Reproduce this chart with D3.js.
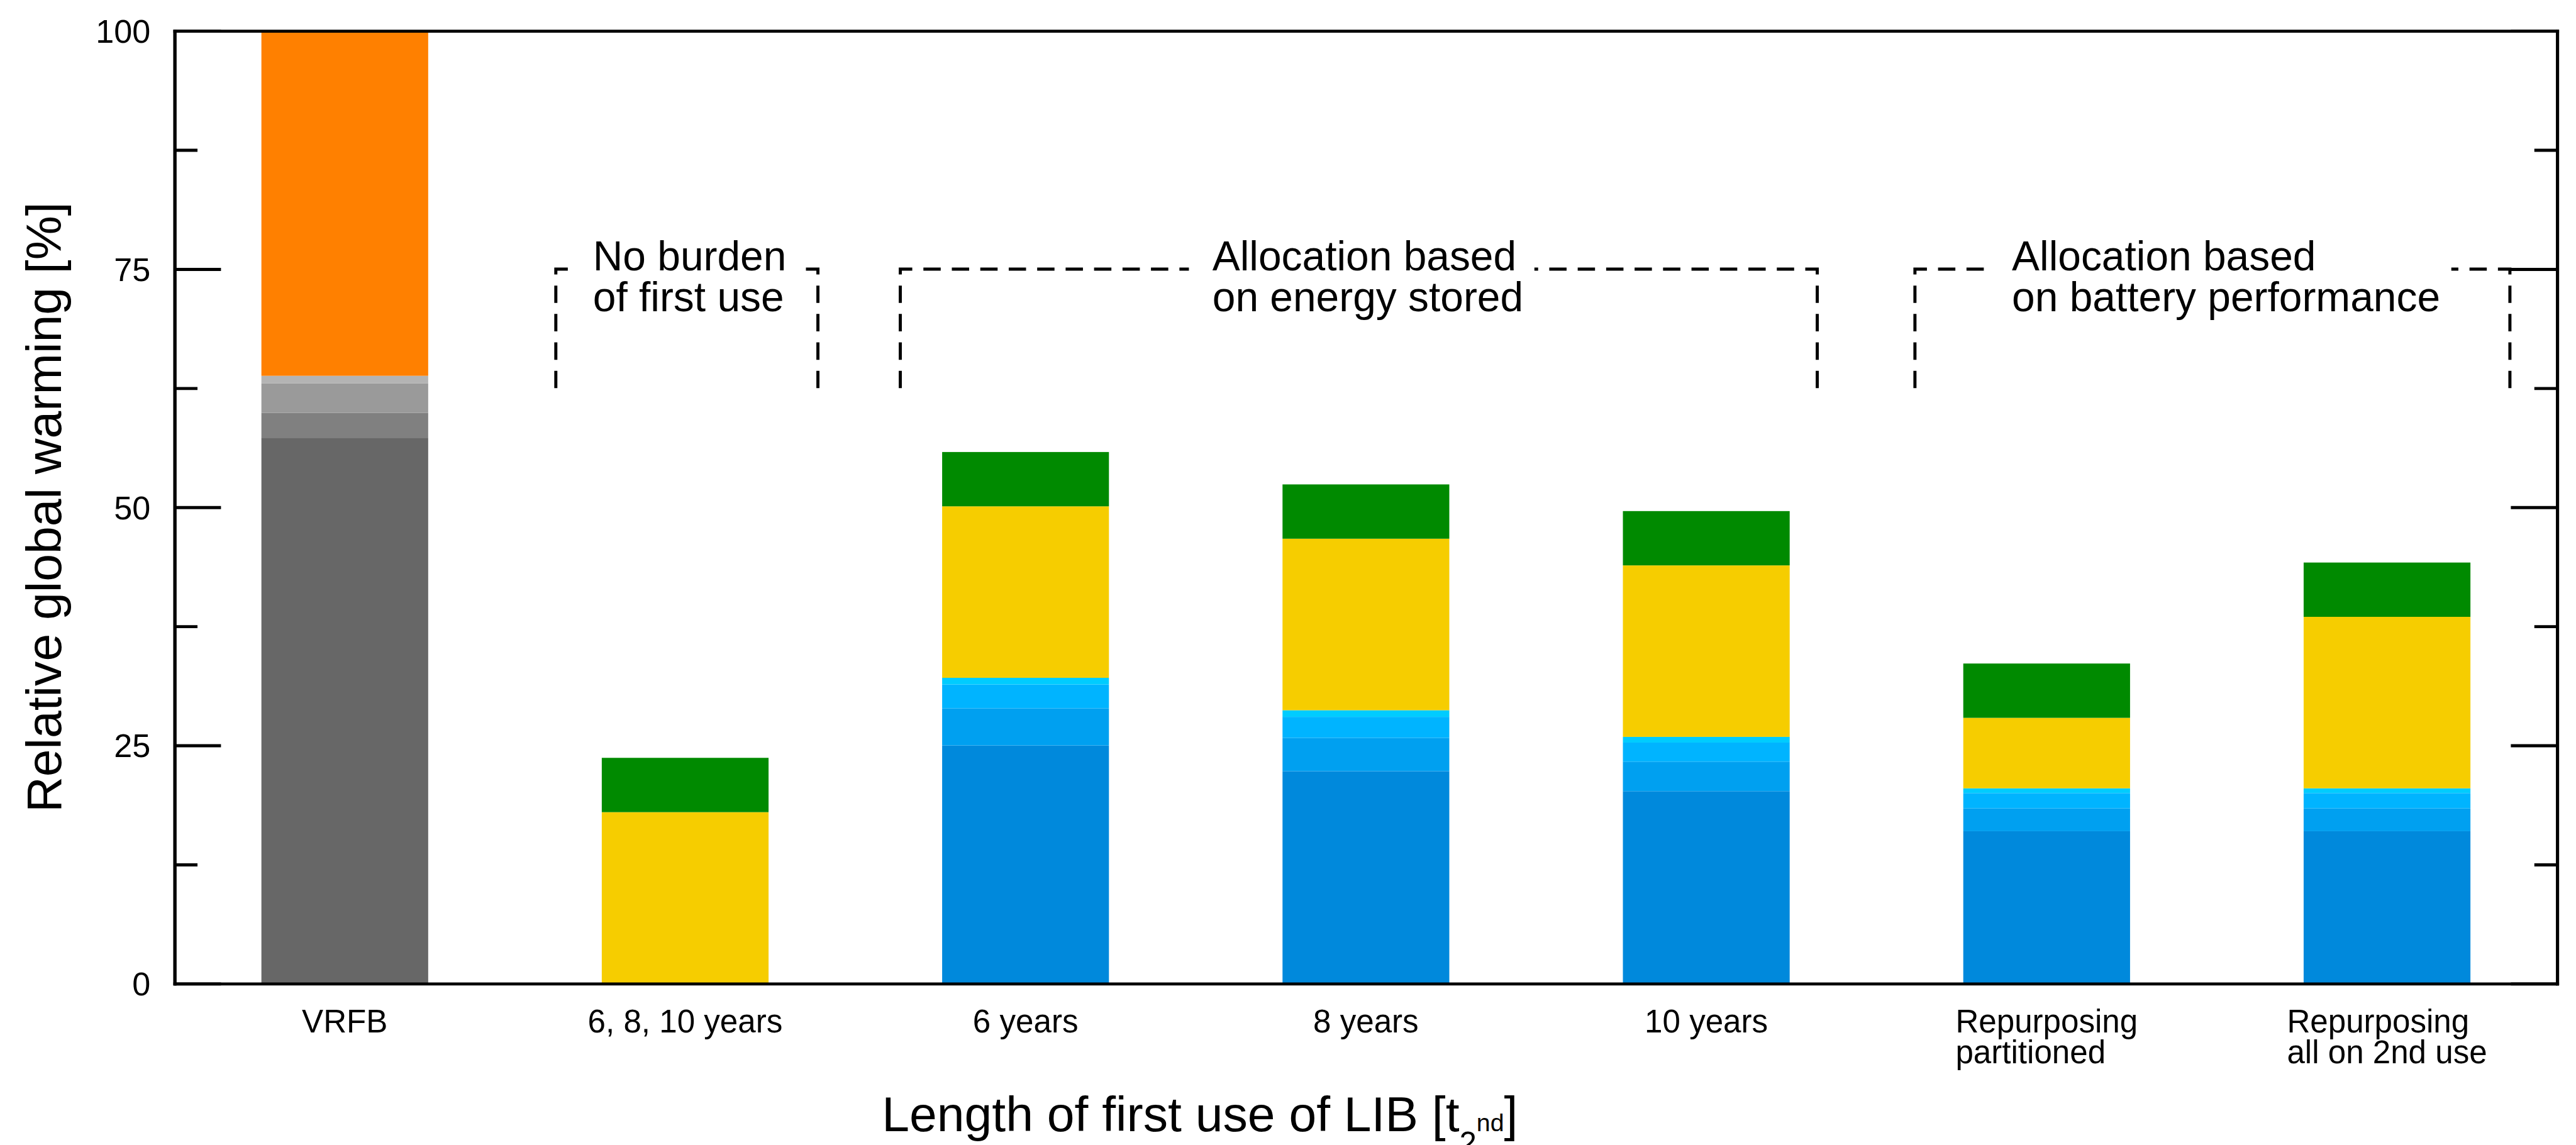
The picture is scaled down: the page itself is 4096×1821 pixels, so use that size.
<!DOCTYPE html>
<html>
<head>
<meta charset="utf-8">
<script src="https://cdn.jsdelivr.net/npm/d3@7"></script>
<style>
  body { margin: 0; background: #fff; }
  text { font-family: "Liberation Sans", Arial, Helvetica, sans-serif; fill: #000; }
</style>
</head>
<body>
<div id="chart"></div>
<script>

// categories on the x axis (multi line labels split with \n)
var categories = ["VRFB", "6, 8, 10 years", "6 years", "8 years", "10 years",
  "Repurposing\npartitioned", "Repurposing\nall on 2nd use"];

// stacked values, bottom to top
var vrfbBase  = [57.3, 0, 0, 0, 0, 0, 0];
var vrfbMid   = [2.6, 0, 0, 0, 0, 0, 0];
var vrfbLight = [3.1, 0, 0, 0, 0, 0, 0];
var vrfbPale  = [0.8, 0, 0, 0, 0, 0, 0];
var vrfbTop   = [36.2, 0, 0, 0, 0, 0, 0];
var libDark   = [0, 0, 25.0, 22.3, 20.2, 16.0, 16.0];
var libMid    = [0, 0, 3.9, 3.5, 3.1, 2.4, 2.4];
var libLight  = [0, 0, 2.5, 2.2, 2.0, 1.6, 1.6];
var libCyan   = [0, 0, 0.7, 0.7, 0.6, 0.5, 0.5];
var yellowPart = [0, 18.0, 18.0, 18.0, 18.0, 7.4, 18.0];
var greenPart  = [0, 5.7, 5.7, 5.7, 5.7, 5.7, 5.7];

var yTicks = [0, 25, 50, 75, 100];
var yMinorTicks = [12.5, 37.5, 62.5, 87.5];

// dashed brackets above the bars (x in category units, y in %)
var bracketLines = [["No burden", "of first use"],
  ["Allocation based", "on energy stored"],
  ["Allocation based", "on battery performance"]];
var bracketFrom = [0.620, 1.632, 4.613];
var bracketTo = [1.390, 4.326, 6.361];
var bracketTextAt = [0.729, 2.549, 4.898];
var bracketLow = 62.5, bracketHigh = 75;

var keys = ["vrfbBase", "vrfbMid", "vrfbLight", "vrfbPale", "vrfbTop",
  "libDark", "libMid", "libLight", "libCyan", "yellow", "green"];
var colours = ["#676767", "#808080", "#9a9a9a", "#b4b4b4", "#ff8000",
  "#0089dc", "#00a0f0", "#00b4ff", "#00ccff", "#f6cd00", "#008a00"];

// build the table for d3.stack
var rows = categories.map(function(c, i) {
  return {
    cat: c, idx: i,
    vrfbBase: vrfbBase[i], vrfbMid: vrfbMid[i], vrfbLight: vrfbLight[i],
    vrfbPale: vrfbPale[i], vrfbTop: vrfbTop[i],
    libDark: libDark[i], libMid: libMid[i], libLight: libLight[i], libCyan: libCyan[i],
    yellow: yellowPart[i], green: greenPart[i]
  };
});

// drawn in the reference's own pixel space, scaled down by the viewBox
var width = 4165, height = 1852;
var margin = {top: 50, right: 30, bottom: 261, left: 282};

var svg = d3.select("#chart")
  .append("svg")
  .attr("width", 4096)
  .attr("height", 1821)
  .attr("viewBox", "0 0 " + width + " " + height);

var x_scale = d3.scaleLinear()
  .domain([-0.5, 6.5])
  .range([margin.left, width - margin.right]);

var y_scale = d3.scaleLinear()
  .domain([0, 100])
  .range([height - margin.bottom, margin.top]);

var barW = (x_scale(1) - x_scale(0)) * 0.49;

var stacked = d3.stack().keys(keys)(rows);

svg.append("g")
  .selectAll("g")
  .data(stacked)
  .enter().append("g")
  .attr("fill", function(d, i) { return colours[i]; })
  .selectAll("rect")
  .data(function(d) { return d.filter(function(p) { return p[1] - p[0] > 0; }); })
  .enter().append("rect")
  .attr("x", function(d) { return x_scale(d.data.idx) - barW / 2; })
  .attr("width", barW)
  .attr("y", function(d) { return y_scale(d[1]); })
  .attr("height", function(d) { return y_scale(d[0]) - y_scale(d[1]); });

// frame + ticks
var axisW = 5;

var left = svg.append("g")
  .attr("transform", "translate(" + margin.left + ",0)")
  .call(d3.axisLeft(y_scale).tickValues(yTicks).tickSize(-75).tickSizeOuter(0).tickPadding(39));
left.selectAll("text").attr("font-size", 53).attr("dy", "0.35em");

svg.append("g")
  .attr("transform", "translate(" + margin.left + ",0)")
  .call(d3.axisLeft(y_scale).tickValues(yMinorTicks).tickSize(-37).tickSizeOuter(0).tickFormat(""));

svg.append("g")
  .attr("transform", "translate(" + (width - margin.right) + ",0)")
  .call(d3.axisRight(y_scale).tickValues(yTicks).tickSize(-75).tickSizeOuter(0).tickFormat(""));

svg.append("g")
  .attr("transform", "translate(" + (width - margin.right) + ",0)")
  .call(d3.axisRight(y_scale).tickValues(yMinorTicks).tickSize(-37).tickSizeOuter(0).tickFormat(""));

svg.append("g")
  .attr("transform", "translate(0," + margin.top + ")")
  .call(d3.axisTop(x_scale).tickValues([]).tickSizeOuter(0));

svg.append("g")
  .attr("transform", "translate(0," + (height - margin.bottom) + ")")
  .call(d3.axisBottom(x_scale).tickValues([]).tickSizeOuter(0));

svg.selectAll(".domain, .tick line")
  .attr("stroke", "#000")
  .attr("stroke-width", axisW)
  .attr("stroke-linecap", "square");
svg.selectAll(".tick line").attr("stroke-linecap", "butt");

// category labels: lines left aligned, block centred on the bar
categories.forEach(function(c, i) {
  var lines = c.split("\n");
  var g = svg.append("g");
  var texts = lines.map(function(l, k) {
    return g.append("text")
      .attr("font-size", 52)
      .attr("y", 1670 + k * 50)
      .text(l);
  });
  var maxW = d3.max(texts, function(t) { return t.node().getComputedTextLength(); });
  texts.forEach(function(t) { t.attr("x", x_scale(i) - maxW / 2); });
});

// axis titles
svg.append("text")
  .attr("transform", "translate(98," + ((margin.top + height - margin.bottom) / 2) + ") rotate(-90)")
  .attr("text-anchor", "middle")
  .attr("font-size", 80)
  .text("Relative global warming [%]");

var xt = svg.append("text")
  .attr("x", 1940)
  .attr("y", 1830)
  .attr("text-anchor", "middle")
  .attr("font-size", 80);
xt.append("tspan").text("Length of first use of LIB [t");
xt.append("tspan").attr("font-size", 50).attr("dy", 36).text("2");
xt.append("tspan").attr("font-size", 40).attr("dy", -36).text("nd");
xt.append("tspan").text("]");

// dashed brackets with their captions
bracketLines.forEach(function(lines, i) {
  var tx = x_scale(bracketTextAt[i]);
  var yTop = y_scale(bracketHigh), yBot = y_scale(bracketLow);
  var g = svg.append("g");
  var texts = lines.map(function(l, k) {
    return g.append("text")
      .attr("x", tx)
      .attr("y", yTop + 2 + k * 66)
      .attr("font-size", 67)
      .text(l);
  });
  var maxW = d3.max(texts, function(t) { return t.node().getComputedTextLength(); });

  var x0 = x_scale(bracketFrom[i]), x1 = x_scale(bracketTo[i]);
  var leftPath = d3.path();
  leftPath.moveTo(x0, yBot); leftPath.lineTo(x0, yTop); leftPath.lineTo(tx - 38, yTop);
  var rightPath = d3.path();
  rightPath.moveTo(x1, yBot); rightPath.lineTo(x1, yTop); rightPath.lineTo(tx + maxW + 18, yTop);

  [leftPath, rightPath].forEach(function(p) {
    g.append("path")
      .attr("d", p.toString())
      .attr("fill", "none")
      .attr("stroke", "#000")
      .attr("stroke-width", 5)
      .attr("stroke-dasharray", "28,18");
  });
});

</script>
</body>
</html>
